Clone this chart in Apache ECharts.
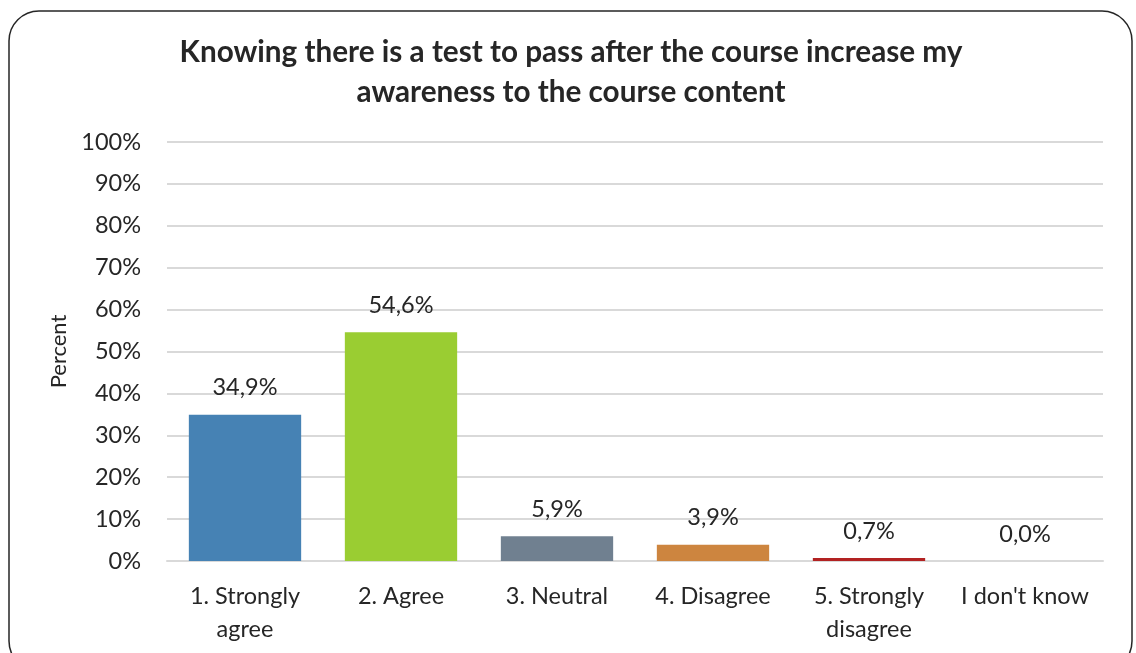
<!DOCTYPE html>
<html>
<head>
<meta charset="utf-8">
<title>Test awareness</title>
<script src="https://cdn.jsdelivr.net/npm/echarts@6/dist/echarts.min.js"></script>
<style>
  html, body { margin: 0; padding: 0; background: #fff; }
  #chart { width: 1136px; height: 653px; }
</style>
</head>
<body>
<div id="chart"></div>
<script>
// categories and values (percent)
var categories = ['1. Strongly\nagree', '2. Agree', '3. Neutral', '4. Disagree', '5. Strongly\ndisagree', "I don't know"];
var values = [34.9, 54.6, 5.9, 3.9, 0.7, 0.0];
var barColors = ['#4682b4', '#9acd32', '#708090', '#cd853f', '#b22222', '#999999'];
var yTicks = [0, 10, 20, 30, 40, 50, 60, 70, 80, 90, 100];

var chart = echarts.init(document.getElementById('chart'));

var option = {
  animation: false,
  title: {
    text: 'Knowing there is a test to pass after the course increase my\nawareness to the course content',
    left: 566,
    top: 27,
    textAlign: 'center',
    textStyle: {
      fontFamily: 'Lato',
      fontSize: 29.7,
      fontWeight: 'bold',
      color: '#262626',
      lineHeight: 40
    }
  },
  graphic: [{
    type: 'rect',
    shape: { x: 9, y: 11, width: 1123, height: 660, r: 30 },
    style: { fill: 'none', stroke: '#262626', lineWidth: 1.5 },
    silent: true
  }],
  grid: { left: 167, right: 33, top: 142, bottom: 92 },
  xAxis: {
    type: 'category',
    data: categories,
    axisLine: { show: true, lineStyle: { color: '#d9d9d9', width: 2 } },
    axisTick: { show: false },
    axisLabel: {
      interval: 0,
      fontFamily: 'Lato',
      fontSize: 23.5,
      color: '#262626',
      lineHeight: 33,
      margin: 19
    }
  },
  yAxis: {
    type: 'value',
    min: 0,
    max: 100,
    interval: 10,
    name: 'Percent',
    nameLocation: 'middle',
    nameGap: 96,
    nameTextStyle: { fontFamily: 'Lato', fontSize: 22, color: '#262626' },
    axisLine: { show: false },
    axisTick: { show: false },
    splitLine: { lineStyle: { color: '#d9d9d9', width: 2 } },
    axisLabel: {
      fontFamily: 'Lato',
      fontSize: 23.5,
      color: '#262626',
      margin: 26,
      formatter: function (v) { return yTicks.indexOf(v) >= 0 ? v + '%' : ''; }
    }
  },
  series: [{
    type: 'bar',
    data: values.map(function (v, i) {
      return { value: v, itemStyle: { color: barColors[i] } };
    }),
    barWidth: '72%',
    label: {
      show: true,
      position: 'top',
      distance: 15,
      fontFamily: 'Lato',
      fontSize: 23.5,
      color: '#262626',
      formatter: function (p) { return p.value.toFixed(1).replace('.', ',') + '%'; }
    }
  }]
};

chart.setOption(option);
</script>
</body>
</html>
